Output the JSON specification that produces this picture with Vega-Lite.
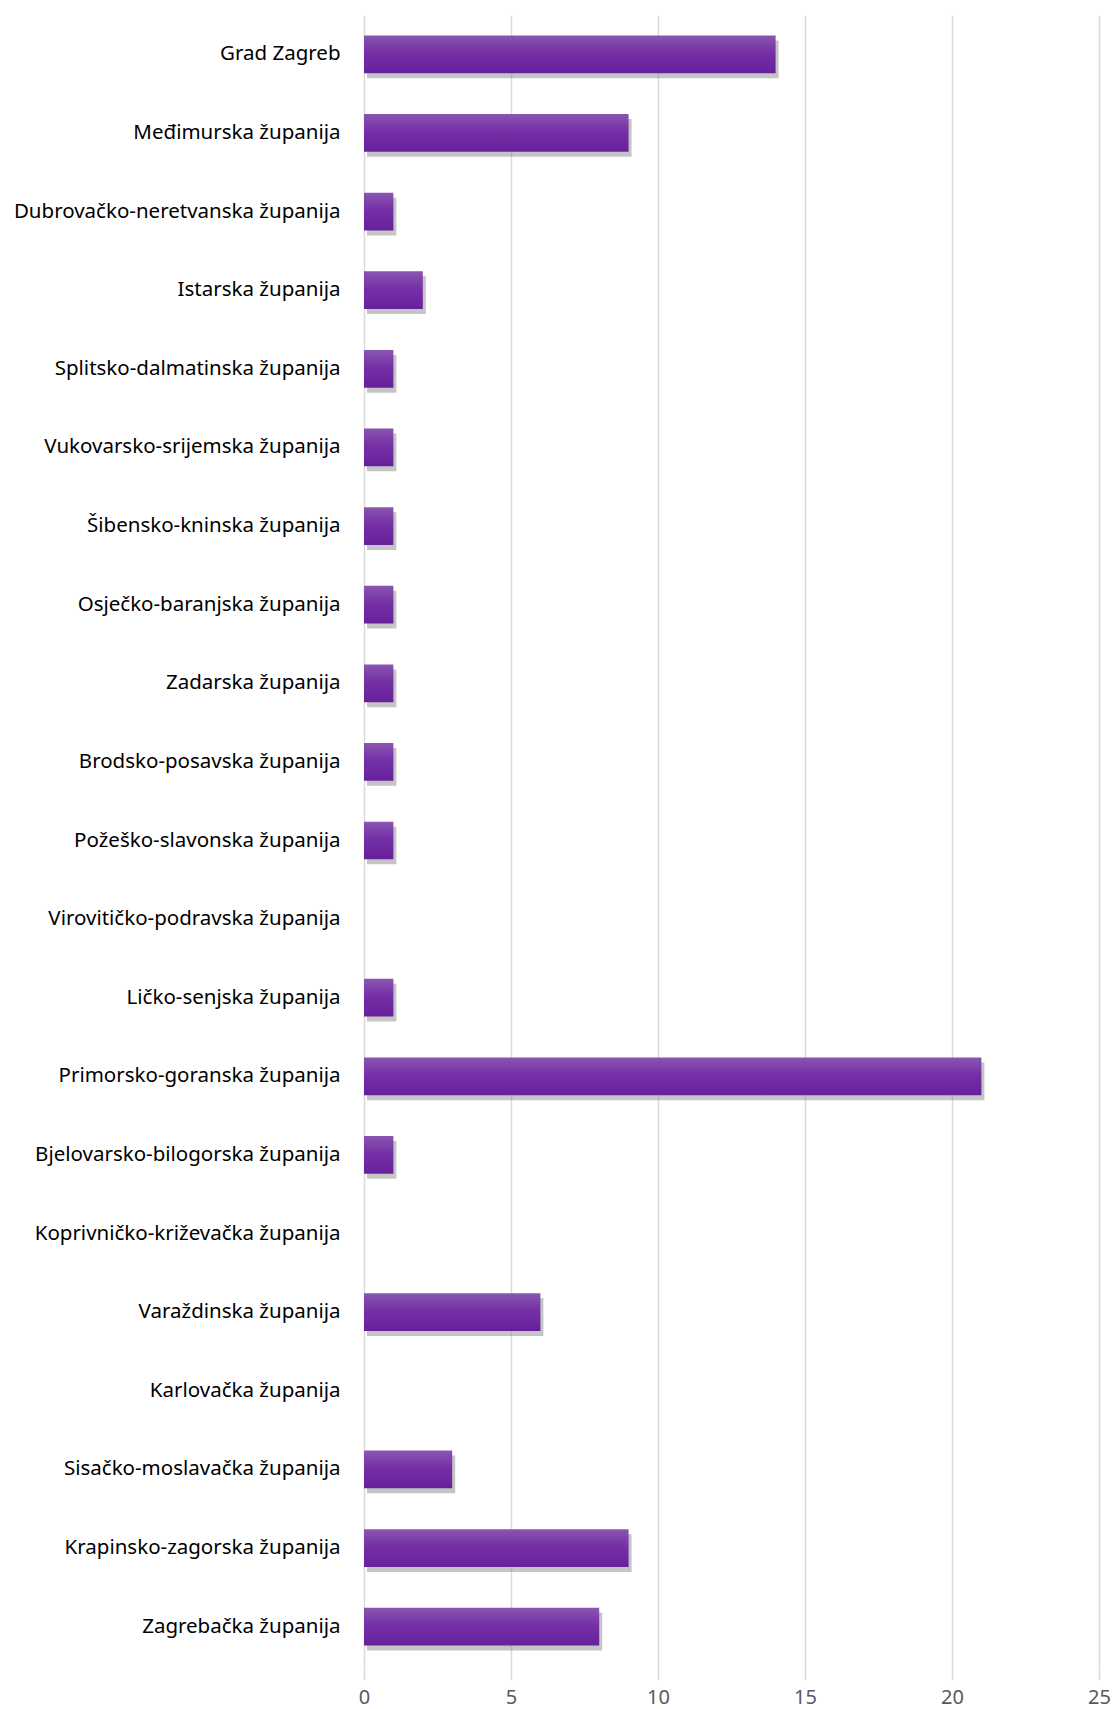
{
  "$schema": "https://vega.github.io/schema/vega-lite/v6.json",
  "width": 735,
  "height": 1651,
  "autosize": {"type": "none"},
  "padding": {"left": 364, "top": 15, "right": 15, "bottom": 43},
  "background": "white",
  "config": {"view": {"stroke": null}, "font": "Noto Sans"},
  "data": {"values": [
    {"zupanija": "Grad Zagreb", "broj": 14},
    {"zupanija": "Međimurska županija", "broj": 9},
    {"zupanija": "Dubrovačko-neretvanska županija", "broj": 1},
    {"zupanija": "Istarska županija", "broj": 2},
    {"zupanija": "Splitsko-dalmatinska županija", "broj": 1},
    {"zupanija": "Vukovarsko-srijemska županija", "broj": 1},
    {"zupanija": "Šibensko-kninska županija", "broj": 1},
    {"zupanija": "Osječko-baranjska županija", "broj": 1},
    {"zupanija": "Zadarska županija", "broj": 1},
    {"zupanija": "Brodsko-posavska županija", "broj": 1},
    {"zupanija": "Požeško-slavonska županija", "broj": 1},
    {"zupanija": "Virovitičko-podravska županija", "broj": 0},
    {"zupanija": "Ličko-senjska županija", "broj": 1},
    {"zupanija": "Primorsko-goranska županija", "broj": 21},
    {"zupanija": "Bjelovarsko-bilogorska županija", "broj": 1},
    {"zupanija": "Koprivničko-križevačka županija", "broj": 0},
    {"zupanija": "Varaždinska županija", "broj": 6},
    {"zupanija": "Karlovačka županija", "broj": 0},
    {"zupanija": "Sisačko-moslavačka županija", "broj": 3},
    {"zupanija": "Krapinsko-zagorska županija", "broj": 9},
    {"zupanija": "Zagrebačka županija", "broj": 8}
  ]},
  "encoding": {
    "y": {
      "field": "zupanija", "type": "nominal", "sort": null,
      "scale": {"paddingInner": 0.52, "paddingOuter": 0.26},
      "axis": {"title": null, "domain": false, "ticks": false, "labelFontSize": 20.5, "labelColor": "#000000", "labelPadding": 24, "labelFont": "Noto Sans", "labelLimit": 400}
    },
    "x": {
      "field": "broj", "type": "quantitative",
      "scale": {"domain": [0, 25], "nice": false},
      "axis": {"title": null, "values": [0, 5, 10, 15, 20, 25], "domain": false, "tickColor": "#d9d9d9", "tickSize": 14, "tickWidth": 1.5, "gridColor": "#d9d9d9", "gridWidth": 1.5, "labelFontSize": 20, "labelColor": "#595959", "labelPadding": 7, "labelFlush": false, "labelFont": "Noto Sans"}
    }
  },
  "layer": [
    {
      "mark": {"type": "bar", "color": "#8c8c8c", "opacity": 0.5, "xOffset": 3, "yOffset": 5}
    },
    {
      "mark": {
        "type": "bar",
        "color": {"gradient": "linear", "x1": 0, "y1": 0, "x2": 0, "y2": 1,
          "stops": [{"offset": 0, "color": "#8a56b0"}, {"offset": 0.45, "color": "#7530a6"}, {"offset": 1, "color": "#67209c"}]}
      }
    }
  ]
}
